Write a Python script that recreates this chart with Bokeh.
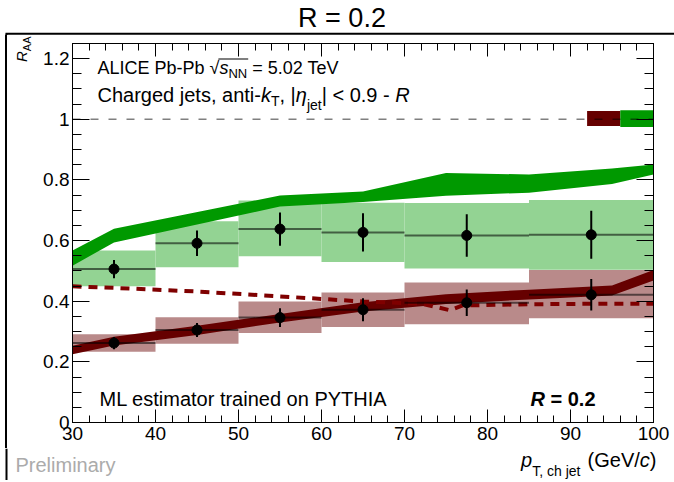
import math
from bokeh.plotting import figure
from bokeh.models import Range1d, LinearAxis, FixedTicker, Label, Span, Div
from bokeh.layouts import column, row
from bokeh.embed import file_html
from bokeh.resources import INLINE

# ---------------- data ----------------
bin_lo = [30, 40, 50, 60, 70, 85]
bin_hi = [40, 50, 60, 70, 85, 100]
pt_x = [35, 45, 55, 65, 77.5, 92.5]

g_val = [0.506, 0.591, 0.638, 0.627, 0.617, 0.619]
g_stat = [0.030, 0.042, 0.055, 0.063, 0.070, 0.079]
g_sys_lo = [0.449, 0.512, 0.548, 0.529, 0.508, 0.504]
g_sys_hi = [0.567, 0.664, 0.732, 0.725, 0.724, 0.734]

r_val = [0.262, 0.305, 0.346, 0.372, 0.395, 0.421]
r_stat = [0.020, 0.023, 0.031, 0.038, 0.044, 0.052]
r_sys_lo = [0.233, 0.260, 0.295, 0.315, 0.324, 0.344]
r_sys_hi = [0.291, 0.347, 0.399, 0.429, 0.462, 0.503]

gband_x = [30, 35, 55, 65, 75, 85, 95, 100]
gband_lo = [0.517, 0.594, 0.712, 0.727, 0.748, 0.758, 0.787, 0.818]
gband_hi = [0.567, 0.639, 0.749, 0.762, 0.823, 0.818, 0.838, 0.851]

rband_x = [30, 35, 45, 55, 65, 75, 85, 95, 100]
rband_lo = [0.225, 0.254, 0.289, 0.330, 0.366, 0.391, 0.406, 0.419, 0.468]
rband_hi = [0.253, 0.283, 0.319, 0.358, 0.397, 0.423, 0.438, 0.452, 0.503]

rdash_x = [30, 35, 45, 55, 65, 72, 74, 75.5, 77, 85, 95, 100]
rdash_y = [0.449, 0.444, 0.432, 0.416, 0.399, 0.392, 0.380, 0.370, 0.386, 0.390, 0.392, 0.392]

norm_left = [92, 96]
norm_right = [96, 100]
norm_bottom = [0.978, 0.975]
norm_top = [1.027, 1.030]
norm_colors = ["#660000", "#009900"]

x_ticks = [30, 40, 50, 60, 70, 80, 90, 100]
x_minor = [v for v in range(30, 101, 2)]
y_ticks = [0, 0.2, 0.4, 0.6, 0.8, 1.0, 1.2]
y_tick_labels = ["0", "0.2", "0.4", "0.6", "0.8", "1", "1.2"]
y_minor = [round(0.05 * i, 2) for i in range(0, 26)]

# ---------------- page geometry (page pixels; the page body has no margin) ----------------
PAGE_W = 674
TOP_H = 35          # title strip: page y 0..35
LEFT_W = 34         # y-title strip: page x 0..34
ML, MR, MT, MB = 38, 21, 8, 26
FRW, FRH = 581, 379
MID_H = MT + FRH + MB   # plot strip: page y 35..448
BOT_H = 32              # bottom strip: page y 448..480
FONT = "Liberation Sans"
PXX = FRW / 70.0
PXY = FRH / 1.25
REF_L = LEFT_W + ML          # 72
REF_B = TOP_H + MT + FRH     # 422
MID_BOTTOM = TOP_H + MID_H
BOT_BOTTOM = MID_BOTTOM + BOT_H
VLINE_X = 6
MID_K = 0.3465   # label anchor sits at the text box middle: baseline -> middle shift / size


def X(px):
    return 30 + (px - REF_L) / PXX


def Y(py):
    return (REF_B - py) / PXY


def strip(w, h):
    f = figure(width=w, height=h, x_range=Range1d(0, w), y_range=Range1d(0, h),
               output_backend="svg", toolbar_location=None, x_axis_type=None,
               y_axis_type=None, min_border=0, title=None)
    f.outline_line_color = None
    f.background_fill_color = "white"
    f.border_fill_color = "white"
    return f


# ---------------- main plot ----------------
p = figure(width=PAGE_W - LEFT_W, height=MID_H, x_range=Range1d(30, 100),
           y_range=Range1d(0, 1.25), output_backend="svg", toolbar_location=None,
           min_border_left=ML, min_border_right=MR, min_border_top=MT, min_border_bottom=MB,
           background_fill_color="white", border_fill_color="white", title=None)
p.grid.visible = False
p.outline_line_color = "black"
p.outline_line_width = 1


def style_axis(ax, ticks, minor, major_len, minor_len, labels):
    ax.ticker = FixedTicker(ticks=ticks, minor_ticks=minor)
    ax.major_tick_in = major_len
    ax.major_tick_out = 0
    ax.minor_tick_in = minor_len
    ax.minor_tick_out = 0
    ax.axis_line_color = "black"
    ax.axis_line_width = 1
    ax.major_tick_line_color = "black"
    ax.minor_tick_line_color = "black"
    ax.major_tick_line_width = 1
    ax.minor_tick_line_width = 1
    ax.axis_label_standoff = 0
    if labels:
        ax.major_label_text_font = FONT
        ax.major_label_text_font_size = "19px"
        ax.major_label_text_color = "black"
    else:
        ax.major_label_text_font_size = "1px"
        ax.major_label_text_color = None
        ax.major_label_standoff = 0


xb = p.xaxis[0]
yl = p.yaxis[0]
style_axis(xb, x_ticks, x_minor, 13, 7, True)
xb.major_label_standoff = 4
style_axis(yl, y_ticks, y_minor, 17, 9, True)
yl.major_label_standoff = 3
yl.major_label_overrides = {t: s for t, s in zip(y_ticks, y_tick_labels)}

xt = LinearAxis()
style_axis(xt, x_ticks, x_minor, 13, 7, False)
p.add_layout(xt, "above")
yr = LinearAxis()
style_axis(yr, y_ticks, y_minor, 17, 9, False)
p.add_layout(yr, "right")

# systematic boxes
p.quad(left=bin_lo, right=bin_hi, bottom=g_sys_lo, top=g_sys_hi,
       fill_color="#93d393", line_color=None)
p.quad(left=bin_lo, right=bin_hi, bottom=r_sys_lo, top=r_sys_hi,
       fill_color="#b98a8a", line_color=None)

# model bands
p.varea(x=gband_x, y1=gband_lo, y2=gband_hi, fill_color="#009900")
p.varea(x=rband_x, y1=rband_lo, y2=rband_hi, fill_color="#660000")
p.line(rdash_x, rdash_y, line_color="#7f0000", line_width=4, line_dash="9 7")

# normalisation boxes
p.quad(left=norm_left, right=norm_right, bottom=norm_bottom, top=norm_top,
       fill_color=norm_colors, line_color=None)

p.add_layout(Span(location=1.0, dimension="width", line_color="black", line_alpha=0.5,
                  line_width=1.5, line_dash="8 10"))

# data points with errors
for vals, stats in ((g_val, g_stat), (r_val, r_stat)):
    p.segment(x0=bin_lo, x1=bin_hi, y0=vals, y1=vals, line_color="black",
              line_alpha=0.55, line_width=2)
    p.segment(x0=pt_x, x1=pt_x, y0=[v - s for v, s in zip(vals, stats)],
              y1=[v + s for v, s in zip(vals, stats)], line_color="black", line_width=2)
    p.scatter(pt_x, vals, size=10, color="black")

# ---------------- text helpers ----------------
AW = {" ": 278, "(": 333, ")": 333, ",": 278, "-": 333, ".": 278, "/": 278, "|": 260,
      "<": 584, "=": 584, "√": 549, "η": 556,
      "A": 667, "C": 722, "E": 667, "G": 778, "H": 722, "I": 278, "L": 556, "M": 833,
      "N": 722, "P": 667, "R": 722, "T": 611, "V": 667, "Y": 667,
      "a": 556, "b": 556, "c": 500, "d": 556, "e": 556, "g": 556, "h": 556, "i": 222,
      "j": 222, "k": 500, "l": 222, "m": 833, "n": 556, "o": 556, "p": 556, "r": 333,
      "s": 500, "t": 278, "v": 500, "y": 500}


def tw(s, size):
    return sum(AW.get(c, 556) for c in s) * size / 1000.0


def rich(fig, x, y, segs, color="black", align="left"):
    """Place text pieces so that (x, y) is the start point on the baseline."""
    off = 0.0
    for text, size, style, dy in segs:
        core = text.strip(" ")
        lead = len(text) - len(text.lstrip(" "))
        off += lead * tw(" ", size)
        up = dy + MID_K * size
        fig.add_layout(Label(x=x, y=y, x_offset=off, y_offset=up, text=core,
                             text_font=FONT, text_font_size=f"{size}px",
                             text_font_style=style, text_color=color,
                             text_baseline="alphabetic", text_align=align))
        off += tw(text.lstrip(" "), size)
    return off


S = 20
SUB = 14
S1 = 18
SUB1 = 13

# texts inside the frame
w1 = tw("ALICE Pb-Pb ", S1)
rich(p, X(97), Y(73.5), [("ALICE Pb-Pb ", S1, "normal", 0), ("√", S1, "normal", 0),
                         ("s", S1, "italic", 0), ("NN", SUB1, "normal", -4),
                         (" = 5.02 TeV", S1, "normal", 0)])
x_a = 97 + w1 + tw("√", S1) - 1
x_b = 97 + w1 + tw("√", S1) + tw("s", S1) + tw("NN", SUB1) + 1
p.segment(x0=[X(x_a)], x1=[X(x_b)], y0=[Y(73.5 - 15)], y1=[Y(73.5 - 15)],
          line_color="black", line_width=1.2)

rich(p, X(97), Y(101), [("Charged jets, anti-", S, "normal", 0), ("k", S, "italic", 0),
                        ("T", SUB, "normal", -4), (", |", S, "normal", 0),
                        ("η", S, "italic", 0), ("jet", SUB, "normal", -8),
                        ("| < 0.9 - ", S, "normal", 0), ("R", S, "italic", 0)])

rich(p, X(99), Y(405.5), [("ML estimator trained on PYTHIA", S, "normal", 0)])
rich(p, X(530), Y(405.5), [("R", S, "bold italic", 0), (" = 0.2", S, "bold", 0)])

# ---------------- title strip ----------------
ft = strip(PAGE_W, TOP_H)
rich(ft, 341.5, TOP_H - 27.3, [("R = 0.2", 27, "normal", 0)], align="center")
ft.segment(x0=[VLINE_X - 1], x1=[PAGE_W], y0=[TOP_H - 33.3], y1=[TOP_H - 33.3],
           line_color="black", line_width=2)
ft.segment(x0=[VLINE_X], x1=[VLINE_X], y0=[0], y1=[TOP_H - 33.3],
           line_color="black", line_width=2)

# ---------------- left strip (vertical rule + rotated y title), plain HTML ----------------
R_SIZE, AA_SIZE = 15, 11
r_base_off = (R_SIZE - R_SIZE * 1.117) / 2 + 0.905 * R_SIZE
rot_left = 27 - r_base_off          # baseline of the rotated title at page x = 27
rot_top = 62 - TOP_H                # title starts (bottom end) at page y = 62
left_html = (
    f'<div style="position:relative;width:{LEFT_W}px;height:{MID_H}px;overflow:hidden;">'
    f'<div style="position:absolute;left:{VLINE_X - 1}px;top:0px;width:2px;'
    f'height:{MID_H}px;background:#000;"></div>'
    f'<div style="position:absolute;left:{rot_left:.1f}px;top:{rot_top}px;'
    f'transform:rotate(-90deg);transform-origin:0 0;font-family:\'Liberation Sans\';'
    f'font-size:{R_SIZE}px;line-height:{R_SIZE}px;white-space:nowrap;color:#000;">'
    f'<i>R</i><span style="font-size:{AA_SIZE}px;position:relative;top:4px;">AA</span>'
    f'</div></div>'
)
fl = Div(text=left_html, width=LEFT_W, height=MID_H, margin=0)

# ---------------- bottom strip (x title, Preliminary) ----------------
fb = strip(PAGE_W, BOT_H)
fb.segment(x0=[VLINE_X], x1=[VLINE_X], y0=[0], y1=[BOT_H], line_color="black", line_width=2)
xsegs = [("p", S, "italic", 0), ("T, ch jet", SUB, "normal", -9),
         (" (GeV/", S, "normal", 0), ("c", S, "italic", 0), (")", S, "normal", 0)]
xw = sum(tw(t, s) for t, s, _, _ in xsegs)
rich(fb, 656 - xw, BOT_BOTTOM - 466.5, xsegs)
rich(fb, 15, BOT_BOTTOM - 471, [("Preliminary", S, "normal", 0)], color="#ababab")

layout = column(ft, row(fl, p), fb)
open("out.html", "w").write(file_html(layout, INLINE))
